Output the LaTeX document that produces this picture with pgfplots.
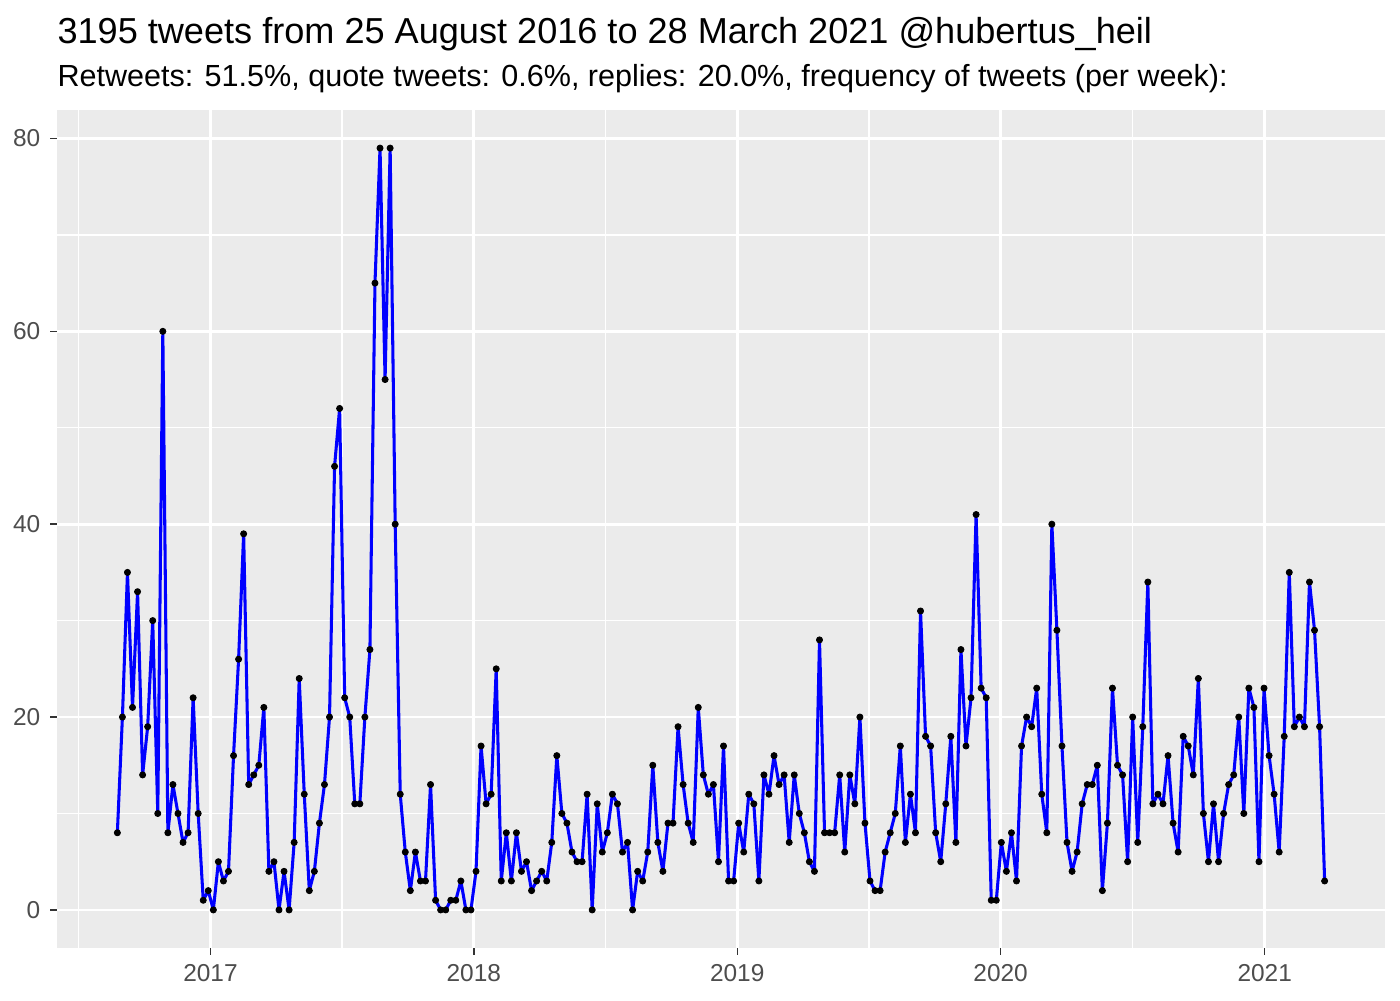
\documentclass[border=0pt]{standalone}
\usepackage{fontspec}
\setmainfont{Liberation Sans}
\usepackage{pgfplots}
\pgfplotsset{compat=1.18}
\usepackage{pgfplotstable}
\definecolor{panelbg}{HTML}{EBEBEB}
\definecolor{ticklab}{HTML}{4D4D4D}
\definecolor{tickcol}{HTML}{333333}
\pgfplotstableread[row sep=\\]{
w n\\
0 8\\ 1 20\\ 2 35\\ 3 21\\ 4 33\\ 5 14\\ 6 19\\ 7 30\\ 8 10\\ 9 60\\
10 8\\ 11 13\\ 12 10\\ 13 7\\ 14 8\\ 15 22\\ 16 10\\ 17 1\\ 18 2\\ 19 0\\
20 5\\ 21 3\\ 22 4\\ 23 16\\ 24 26\\ 25 39\\ 26 13\\ 27 14\\ 28 15\\ 29 21\\
30 4\\ 31 5\\ 32 0\\ 33 4\\ 34 0\\ 35 7\\ 36 24\\ 37 12\\ 38 2\\ 39 4\\
40 9\\ 41 13\\ 42 20\\ 43 46\\ 44 52\\ 45 22\\ 46 20\\ 47 11\\ 48 11\\ 49 20\\
50 27\\ 51 65\\ 52 79\\ 53 55\\ 54 79\\ 55 40\\ 56 12\\ 57 6\\ 58 2\\ 59 6\\
60 3\\ 61 3\\ 62 13\\ 63 1\\ 64 0\\ 65 0\\ 66 1\\ 67 1\\ 68 3\\ 69 0\\
70 0\\ 71 4\\ 72 17\\ 73 11\\ 74 12\\ 75 25\\ 76 3\\ 77 8\\ 78 3\\ 79 8\\
80 4\\ 81 5\\ 82 2\\ 83 3\\ 84 4\\ 85 3\\ 86 7\\ 87 16\\ 88 10\\ 89 9\\
90 6\\ 91 5\\ 92 5\\ 93 12\\ 94 0\\ 95 11\\ 96 6\\ 97 8\\ 98 12\\ 99 11\\
100 6\\ 101 7\\ 102 0\\ 103 4\\ 104 3\\ 105 6\\ 106 15\\ 107 7\\ 108 4\\ 109 9\\
110 9\\ 111 19\\ 112 13\\ 113 9\\ 114 7\\ 115 21\\ 116 14\\ 117 12\\ 118 13\\ 119 5\\
120 17\\ 121 3\\ 122 3\\ 123 9\\ 124 6\\ 125 12\\ 126 11\\ 127 3\\ 128 14\\ 129 12\\
130 16\\ 131 13\\ 132 14\\ 133 7\\ 134 14\\ 135 10\\ 136 8\\ 137 5\\ 138 4\\ 139 28\\
140 8\\ 141 8\\ 142 8\\ 143 14\\ 144 6\\ 145 14\\ 146 11\\ 147 20\\ 148 9\\ 149 3\\
150 2\\ 151 2\\ 152 6\\ 153 8\\ 154 10\\ 155 17\\ 156 7\\ 157 12\\ 158 8\\ 159 31\\
160 18\\ 161 17\\ 162 8\\ 163 5\\ 164 11\\ 165 18\\ 166 7\\ 167 27\\ 168 17\\ 169 22\\
170 41\\ 171 23\\ 172 22\\ 173 1\\ 174 1\\ 175 7\\ 176 4\\ 177 8\\ 178 3\\ 179 17\\
180 20\\ 181 19\\ 182 23\\ 183 12\\ 184 8\\ 185 40\\ 186 29\\ 187 17\\ 188 7\\ 189 4\\
190 6\\ 191 11\\ 192 13\\ 193 13\\ 194 15\\ 195 2\\ 196 9\\ 197 23\\ 198 15\\ 199 14\\
200 5\\ 201 20\\ 202 7\\ 203 19\\ 204 34\\ 205 11\\ 206 12\\ 207 11\\ 208 16\\ 209 9\\
210 6\\ 211 18\\ 212 17\\ 213 14\\ 214 24\\ 215 10\\ 216 5\\ 217 11\\ 218 5\\ 219 10\\
220 13\\ 221 14\\ 222 20\\ 223 10\\ 224 23\\ 225 21\\ 226 5\\ 227 23\\ 228 16\\ 229 12\\
230 6\\ 231 18\\ 232 35\\ 233 19\\ 234 20\\ 235 19\\ 236 34\\ 237 29\\ 238 19\\ 239 3\\
}\tweets
\begin{document}
\begin{tikzpicture}
\useasboundingbox (0,0) rectangle (504pt,360pt);
\begin{axis}[
  at={(20.52pt,18.72pt)}, anchor=south west,
  scale only axis, width=478.08pt, height=301.68pt,
  xmin=-11.95, xmax=250.95, ymin=-3.95, ymax=82.95,
  axis background/.style={fill=panelbg},
  axis line style={draw=none},
  xtick={18.43,70.57,122.71,174.86,227.14},
  xticklabels={2017,2018,2019,2020,2021},
  ytick={0,20,40,60,80}, yticklabels={0,20,40,60,80},
  minor xtick={-7.64,44.5,96.64,148.79,201.0},
  minor ytick={10,30,50,70},
  grid=both,
  major grid style={white, line width=1pt},
  minor grid style={white, line width=0.5pt},
  tick align=outside, major tick length=2.5pt, minor tick length=0pt,
  tick style={tickcol, line width=0.5pt},
  xtick pos=left, ytick pos=left,
  ticklabel style={font=\fontsize{8.8}{10}\selectfont, text=ticklab},
]
\addplot[blue, line width=1.1pt, line join=round, line cap=round, mark=*, mark size=1.1pt,
  mark options={black, fill=black, line width=0.3pt}] table[x=w, y=n] {\tweets};
\end{axis}
\node[anchor=base west, inner sep=0pt, font=\fontsize{13}{16}\selectfont] at (20.52pt,344.3pt)
  {3195 tweets from 25 August 2016 to 28 March 2021 @hubertus\_heil};
\node[anchor=base west, inner sep=0pt, font=\fontsize{11}{13}\selectfont] at (20.52pt,328.7pt)
  {Retweets: 51.5\%, quote tweets: 0.6\%, replies: 20.0\%, frequency of tweets (per week):};
\end{tikzpicture}
\end{document}
